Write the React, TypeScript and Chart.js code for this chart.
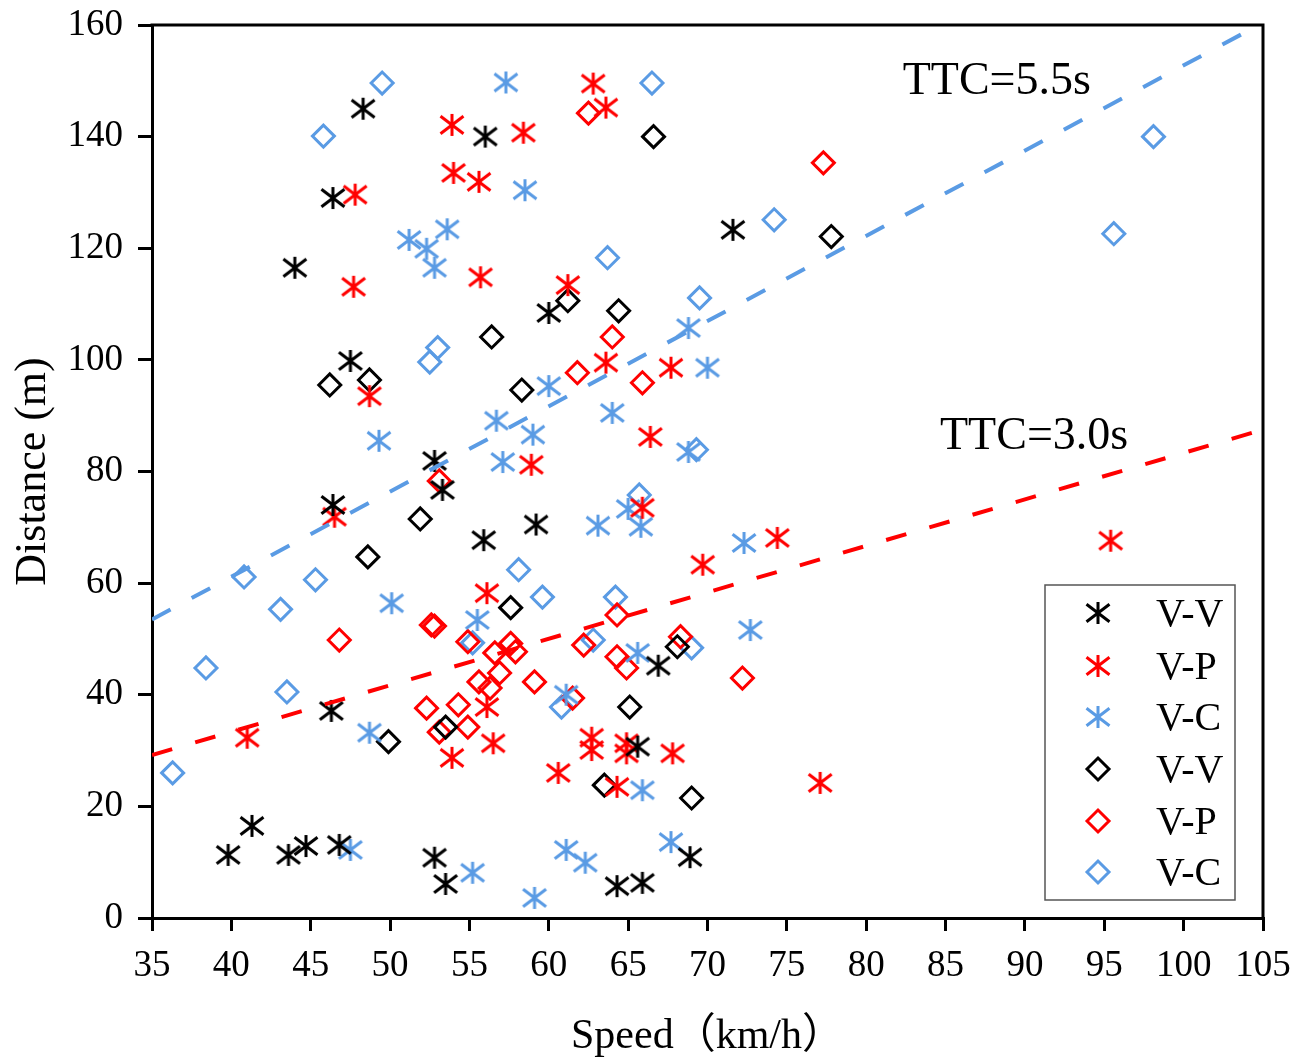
import React, { useEffect, useRef } from 'react';
import { Chart, registerables } from 'chart.js';

Chart.register(...registerables);

// ---- axis setup ----
const X_MIN = 35;
const X_MAX = 105;
const X_STEP = 5;
const Y_MIN = 0;
const Y_MAX = 160;
const Y_STEP = 20;
const X_TITLE = 'Speed（km/h）';
const Y_TITLE = 'Distance (m)';

// ---- series (speed km/h, distance m) ----
const seriesLabels = ['V-V', 'V-P', 'V-C', 'V-V', 'V-P', 'V-C'];

const vvStar: [number, number][] = [
  [48.3, 145], [56.0, 140], [46.4, 129], [44.0, 116.5], [71.6, 123.3], [60.0, 108.4],
  [47.5, 99.8], [52.8, 81.9], [53.3, 76.7], [46.4, 74.0], [59.2, 70.5], [55.9, 67.7],
  [66.9, 45.2], [46.3, 37.1], [65.6, 30.7], [39.8, 11.3], [41.3, 16.5], [43.6, 11.3],
  [44.7, 12.9], [46.8, 13.1], [52.8, 10.8], [53.5, 6.1], [64.3, 5.7], [65.9, 6.3],
  [68.9, 10.9],
];

const vpStar: [number, number][] = [
  [62.8, 149.5], [63.6, 145.2], [53.9, 142.1], [58.4, 140.7], [54.0, 133.5], [55.6, 131.9],
  [47.8, 129.6], [47.7, 113.1], [55.7, 114.8], [61.2, 113.4], [48.7, 93.5], [63.6, 99.5],
  [67.7, 98.6], [66.4, 86.2], [58.9, 81.2], [46.5, 71.9], [65.9, 73.5], [69.7, 63.3],
  [74.4, 68.1], [95.4, 67.6], [56.1, 58.2], [41.0, 32.3], [53.9, 28.7], [56.5, 31.3],
  [56.1, 37.8], [62.7, 32.3], [62.7, 30.1], [64.9, 31.3], [64.9, 29.5], [64.3, 23.5],
  [67.8, 29.5], [60.6, 26.0], [77.1, 24.2],
];

const vcStar: [number, number][] = [
  [57.3, 149.7], [58.5, 130.4], [51.2, 121.5], [52.3, 119.9], [53.6, 123.4], [52.8, 116.5],
  [56.7, 89.1], [57.1, 81.7], [49.3, 85.5], [68.8, 105.7], [70.0, 98.6], [64.0, 90.5],
  [60.0, 95.3], [59.0, 86.6], [68.8, 83.5], [63.1, 70.3], [65.0, 73.3], [65.8, 70.1],
  [72.3, 67.2], [72.7, 51.6], [65.6, 47.5], [61.1, 40.0], [65.9, 22.9], [61.1, 12.2],
  [62.3, 9.9], [67.7, 13.6], [59.1, 3.6], [50.1, 56.4], [55.5, 53.4], [48.7, 33.2],
  [47.5, 12.2], [55.2, 8.1],
];

const vvDiamond: [number, number][] = [
  [66.6, 140.0], [77.8, 122.1], [61.2, 110.6], [64.4, 108.8], [56.4, 104.1], [46.2, 95.5],
  [48.7, 96.4], [58.3, 94.6], [51.9, 71.5], [48.6, 64.7], [57.6, 55.6], [53.5, 34.2],
  [49.9, 31.6], [68.1, 48.6], [65.1, 37.8], [63.5, 23.8], [69.0, 21.5],
];

const vpDiamond: [number, number][] = [
  [62.5, 144.2], [77.3, 135.3], [64.0, 104.1], [61.8, 97.7], [65.9, 95.9], [53.1, 78.3],
  [59.1, 42.3], [61.5, 39.4], [64.3, 54.3], [62.2, 48.9], [64.3, 46.8], [64.9, 44.8],
  [68.3, 50.4], [72.2, 43.0], [46.8, 49.8], [52.6, 52.5], [52.8, 52.3], [54.9, 49.5],
  [56.6, 47.5], [57.6, 49.2], [57.9, 47.7], [56.9, 43.9], [55.6, 42.3], [56.3, 41.2],
  [52.3, 37.6], [54.3, 38.2], [53.1, 33.3], [54.9, 34.2],
];

const vcDiamond: [number, number][] = [
  [49.5, 149.6], [45.8, 140.1], [66.5, 149.6], [74.2, 125.1], [98.1, 140.0], [95.6, 122.6],
  [63.7, 118.3], [69.5, 111.1], [53.0, 102.2], [52.5, 99.6], [69.3, 83.9], [65.7, 75.8],
  [59.6, 57.5], [58.1, 62.4], [64.2, 57.5], [62.8, 49.8], [69.0, 48.4], [60.8, 37.8],
  [40.8, 61.1], [45.3, 60.6], [43.1, 55.3], [38.4, 44.8], [43.5, 40.5], [36.3, 26.0],
  [55.2, 49.3],
];

// TTC reference lines (endpoints)
const ttc55Line: [number, number][] = [[35, 53.5], [105, 160.4]];
const ttc30Line: [number, number][] = [[35, 29.2], [105, 87.5]];
const ttcLabels = ['TTC=5.5s', 'TTC=3.0s'];

// ---- styles ----
const BLACK = '#000000';
const RED = '#ff0000';
const BLUE = '#5a9be4';
const SERIF = '"Liberation Serif", "Times New Roman", "Noto Sans CJK SC", serif';

function makeAsterisk(color: string): HTMLCanvasElement {
  const c = document.createElement('canvas');
  c.width = 30;
  c.height = 30;
  const g = c.getContext('2d')!;
  g.strokeStyle = color;
  g.lineWidth = 3;
  g.lineCap = 'butt';
  g.beginPath();
  g.moveTo(15, 4);
  g.lineTo(15, 26);
  g.moveTo(15 - 11.5, 15 - 8.7);
  g.lineTo(15 + 11.5, 15 + 8.7);
  g.moveTo(15 - 11.5, 15 + 8.7);
  g.lineTo(15 + 11.5, 15 - 8.7);
  g.stroke();
  return c;
}

const toPts = (a: [number, number][]) => a.map(([x, y]) => ({ x, y }));

export default function App() {
  const ref = useRef<HTMLCanvasElement | null>(null);

  useEffect(() => {
    document.body.style.margin = '0';
    const canvas = ref.current!;
    const stars = [makeAsterisk(BLACK), makeAsterisk(RED), makeAsterisk(BLUE)];
    const colors = [BLACK, RED, BLUE];

    const starSet = (label: string, data: [number, number][], i: number) => ({
      label,
      data: toPts(data),
      pointStyle: stars[i] as any,
      pointRadius: 12,
      borderColor: colors[i],
      backgroundColor: 'rgba(0,0,0,0)',
      showLine: false,
      order: 1,
    });
    const diaSet = (label: string, data: [number, number][], i: number) => ({
      label,
      data: toPts(data),
      pointStyle: 'rectRot' as const,
      pointRadius: 11,
      pointBorderWidth: 3,
      borderWidth: 3,
      borderColor: colors[i],
      pointBorderColor: colors[i],
      backgroundColor: 'rgba(0,0,0,0)',
      pointBackgroundColor: 'rgba(0,0,0,0)',
      showLine: false,
      order: 1,
    });
    const lineSet = (data: [number, number][], color: string) => ({
      label: '',
      data: toPts(data),
      showLine: true,
      pointRadius: 0,
      borderColor: color,
      borderWidth: 4,
      borderDash: [21, 24],
      fill: false,
      order: 0,
    });

    const decorPlugin = {
      id: 'decor',
      afterDraw(chart: any) {
        const ctx = chart.ctx as CanvasRenderingContext2D;
        const { left, right, top, bottom } = chart.chartArea;
        const xs = chart.scales.x;
        const ys = chart.scales.y;
        ctx.save();
        // frame top & right
        ctx.strokeStyle = BLACK;
        ctx.lineWidth = 3;
        ctx.beginPath();
        ctx.moveTo(left - 1.5, top);
        ctx.lineTo(right, top);
        ctx.lineTo(right, bottom + 1.5);
        ctx.stroke();

        // TTC labels
        ctx.fillStyle = BLACK;
        ctx.font = `46px ${SERIF}`;
        ctx.textAlign = 'left';
        ctx.textBaseline = 'middle';
        ctx.fillText(ttcLabels[0], xs.getPixelForValue(82.3), ys.getPixelForValue(149.8));
        ctx.fillText(ttcLabels[1], xs.getPixelForValue(84.65), ys.getPixelForValue(86.2));

        // legend
        const bw = 190;
        const bh = 315;
        const bx = right - 28 - bw;
        const by = bottom - 18 - bh;
        ctx.fillStyle = '#ffffff';
        ctx.fillRect(bx, by, bw, bh);
        ctx.strokeStyle = '#555555';
        ctx.lineWidth = 1.5;
        ctx.strokeRect(bx, by, bw, bh);
        const rowY = [28, 81, 132, 184, 236, 287];
        for (let i = 0; i < 6; i++) {
          const cy = by + rowY[i];
          const cx = bx + 53;
          const ci = i % 3;
          if (i < 3) {
            ctx.drawImage(stars[ci], cx - 15, cy - 15);
          } else {
            ctx.strokeStyle = colors[ci];
            ctx.lineWidth = 3;
            ctx.lineJoin = 'miter';
            ctx.beginPath();
            ctx.moveTo(cx - 11, cy);
            ctx.lineTo(cx, cy - 11);
            ctx.lineTo(cx + 11, cy);
            ctx.lineTo(cx, cy + 11);
            ctx.closePath();
            ctx.stroke();
          }
          ctx.fillStyle = BLACK;
          ctx.font = `40px ${SERIF}`;
          ctx.textAlign = 'left';
          ctx.textBaseline = 'middle';
          ctx.fillText(seriesLabels[i], bx + 111, cy + 2);
        }
        ctx.restore();
      },
    };

    const chart = new Chart(canvas, {
      type: 'scatter',
      data: {
        datasets: [
          lineSet(ttc55Line, BLUE),
          lineSet(ttc30Line, RED),
          starSet(seriesLabels[0], vvStar, 0),
          starSet(seriesLabels[1], vpStar, 1),
          starSet(seriesLabels[2], vcStar, 2),
          diaSet(seriesLabels[3], vvDiamond, 0),
          diaSet(seriesLabels[4], vpDiamond, 1),
          diaSet(seriesLabels[5], vcDiamond, 2),
        ] as any,
      },
      options: {
        responsive: false,
        animation: false,
        devicePixelRatio: 1,
        layout: { padding: { top: 25, right: 47, left: 0, bottom: 0 } },
        plugins: {
          legend: { display: false },
          tooltip: { enabled: false },
        },
        scales: {
          x: {
            type: 'linear',
            min: X_MIN,
            max: X_MAX,
            afterFit: (s: any) => {
              s.height = 139;
              s.paddingLeft = 0;
              s.paddingRight = 0;
            },
            ticks: {
              stepSize: X_STEP,
              color: BLACK,
              font: { family: SERIF, size: 37 },
              padding: 13,
              maxRotation: 0,
              autoSkip: false,
            },
            grid: {
              drawOnChartArea: false,
              drawTicks: true,
              tickLength: 13,
              color: BLACK,
              lineWidth: 3,
            },
            border: { display: true, color: BLACK, width: 3 },
            title: {
              display: true,
              text: X_TITLE,
              color: BLACK,
              font: { family: SERIF, size: 42, lineHeight: 1 },
              padding: { top: 0, bottom: -1 },
            },
          },
          y: {
            type: 'linear',
            min: Y_MIN,
            max: Y_MAX,
            afterFit: (s: any) => {
              s.width = 152;
              s.paddingTop = 0;
              s.paddingBottom = 0;
            },
            ticks: {
              stepSize: Y_STEP,
              color: BLACK,
              font: { family: SERIF, size: 37 },
              padding: 15,
              autoSkip: false,
            },
            grid: {
              drawOnChartArea: false,
              drawTicks: true,
              tickLength: 14,
              color: BLACK,
              lineWidth: 3,
            },
            border: { display: true, color: BLACK, width: 3 },
            title: {
              display: true,
              text: Y_TITLE,
              color: BLACK,
              font: { family: SERIF, size: 44, lineHeight: 1 },
              padding: { top: 11, bottom: 0 },
            },
          },
        },
      },
      plugins: [decorPlugin],
    });

    return () => {
      chart.destroy();
    };
  }, []);

  return (
    <div style={{ width: 1310, height: 1057 }}>
      <canvas ref={ref} width={1310} height={1057} style={{ display: 'block' }} />
    </div>
  );
}
